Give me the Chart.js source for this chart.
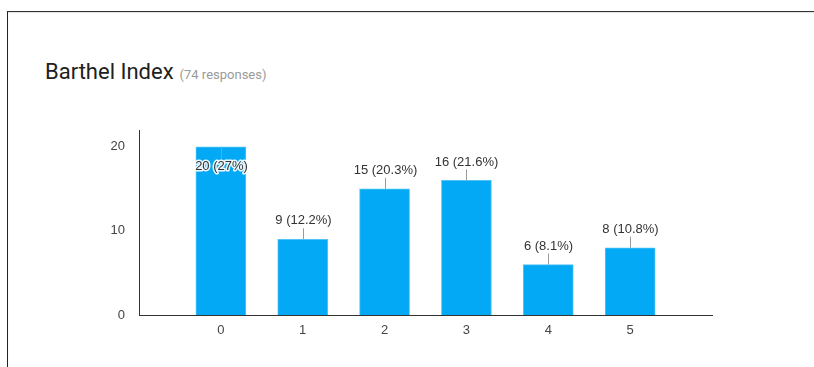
<!DOCTYPE html>
<html>
<head>
<meta charset="utf-8">
<script src="https://cdn.jsdelivr.net/npm/chart.js@4.4.0/dist/chart.umd.min.js"></script>
<style>
  html, body { margin: 0; padding: 0; background: #fff; }
  body { width: 814px; height: 367px; position: relative; overflow: hidden; }
  #frame { position: absolute; left: 7px; top: 11px; right: -5px; bottom: -5px;
           border-top: 1px solid #333; border-left: 1px solid #222;
           box-shadow: inset 0 1px 1px rgba(0,0,0,0.12); }
  #title { position: absolute; left: 45px; top: 61px; white-space: nowrap; line-height: 22px;
           font-family: Roboto, "Noto Sans", sans-serif; }
  #title .main { font-size: 22px; color: #212121; }
  #title .sub { font-size: 13px; color: #9a9a9a; margin-left: 6px; }
  #wrap { position: absolute; left: 0; top: 0; width: 814px; height: 367px; }
</style>
</head>
<body>
<div id="frame"></div>
<div id="title"><span class="main">Barthel Index</span><span class="sub">(74 responses)</span></div>
<div id="wrap"><canvas id="c" width="814" height="367"></canvas></div>
<script>
const categories = ['0', '1', '2', '3', '4', '5'];
const counts = [20, 9, 15, 16, 6, 8];
const yTicks = [0, 10, 20];

const total = counts.reduce((a, b) => a + b, 0);
const labels = [''].concat(categories).concat(['']);
const data = [null].concat(counts).concat([null]);

function pctText(v) {
  const p = Math.round(v / total * 1000) / 10;
  return v + ' (' + p + '%)';
}

const labelPlugin = {
  id: 'leaderLabels',
  afterDatasetsDraw(chart) {
    const ctx = chart.ctx;
    const meta = chart.getDatasetMeta(0);
    const area = chart.chartArea;
    ctx.save();
    ctx.font = '13px "Liberation Sans", Arial, sans-serif';
    ctx.textAlign = 'center';
    ctx.textBaseline = 'middle';
    meta.data.forEach((bar, i) => {
      const v = data[i];
      if (v === null || v === undefined) return;
      const x = Math.round(bar.x) + 0.5;
      const top = bar.y;
      let ty, l1, l2;
      if (top - 28 > area.top) {
        ty = top - 18.5; l1 = top; l2 = top - 11;
      } else {
        ty = top + 20; l1 = top; l2 = top + 13;
      }
      ctx.strokeStyle = '#999';
      ctx.lineWidth = 1;
      ctx.beginPath();
      ctx.moveTo(x, l1);
      ctx.lineTo(x, l2);
      ctx.stroke();
      const t = pctText(v);
      ctx.lineWidth = 3;
      ctx.lineJoin = 'round';
      ctx.strokeStyle = 'rgba(255,255,255,0.9)';
      ctx.strokeText(t, x, ty);
      ctx.fillStyle = '#333';
      ctx.fillText(t, x, ty);
    });
    ctx.restore();
  }
};

new Chart(document.getElementById('c'), {
  type: 'bar',
  data: {
    labels: labels,
    datasets: [{
      data: data,
      backgroundColor: '#03a9f4',
      borderColor: '#4fc3f7',
      borderWidth: { left: 1, right: 1, top: 1, bottom: 0 },
      borderSkipped: 'bottom',
      barThickness: 50
    }]
  },
  options: {
    responsive: false,
    animation: false,
    devicePixelRatio: 1,
    layout: { padding: { left: 99, right: 102, top: 130, bottom: 0 } },
    plugins: { legend: { display: false }, tooltip: { enabled: false }, title: { display: false } },
    scales: {
      x: {
        offset: false,
        grid: { display: false, drawTicks: false },
        border: { display: true, color: '#333', width: 1 },
        ticks: { color: '#444', padding: 8, maxRotation: 0, autoSkip: false,
                  font: { family: '"Liberation Sans", Arial, sans-serif', size: 13 } },
        afterFit(scale) { scale.height = 52; }
      },
      y: {
        min: 0, max: 22,
        grid: { display: false, drawTicks: false },
        border: { display: true, color: '#333', width: 1 },
        ticks: { stepSize: 10, includeBounds: false, color: '#444', padding: 14,
                  font: { family: '"Liberation Sans", Arial, sans-serif', size: 13 } },
        afterBuildTicks(scale) { scale.ticks = yTicks.map(v => ({ value: v })); },
        afterFit(scale) { scale.width = 40; }
      }
    }
  },
  plugins: [labelPlugin]
});
</script>
</body>
</html>
